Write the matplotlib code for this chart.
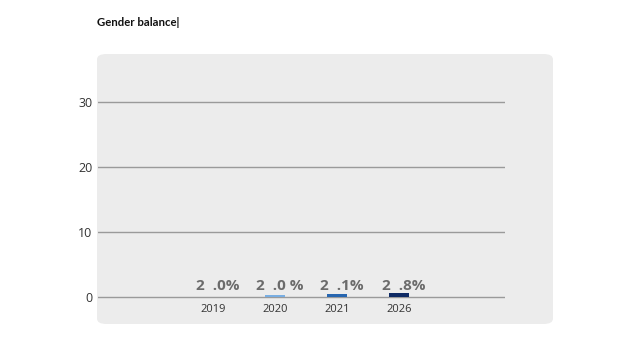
import matplotlib
matplotlib.use("Agg")
import matplotlib.pyplot as plt
from matplotlib.patches import FancyBboxPatch

plt.rcParams['font.family'] = ['Open Sans', 'DejaVu Sans']

years = ["2019", "2020", "2021", "2026"]
values = [0.0, 0.3, 0.45, 0.6]
labels = ["2  .0%", "2  .0 %", "2  .1%", "2  .8%"]
colors = ["#cfe0f3", "#79aee2", "#2766b0", "#0e2a64"]
yticks = [0, 10, 20, 30]

W, H = 640, 360
fig = plt.figure(figsize=(6.4, 3.6), dpi=100)
fig.patch.set_facecolor("white")

# rounded background panel
px0, py0, px1, py1 = 97, 54, 553, 324
panel = FancyBboxPatch((px0 / W, 1 - py1 / H), (px1 - px0) / W, (py1 - py0) / H,
                       boxstyle="round,pad=0,rounding_size=0.015",
                       transform=fig.transFigure, facecolor="#ececec",
                       edgecolor="none", zorder=0)
fig.patches.append(panel)

ax0, ax1 = 98, 505
ax = fig.add_axes([ax0 / W, 1 - py1 / H, (ax1 - ax0) / W, (py1 - py0) / H])
ax.set_zorder(5)
ax.set_facecolor("none")
ppu = 195 / 30.0
ax.set_ylim(-(324 - 297) / ppu, 30 + (102 - 54) / ppu)
xppu = 62.0
ax.set_xlim(-(213 - ax0) / xppu, (ax1 - 213) / xppu)

for s in ax.spines.values():
    s.set_visible(False)

ax.set_yticks(yticks)
ax.set_yticklabels([str(t) for t in yticks], fontsize=9, color="#333333")
ax.tick_params(axis="y", length=0, pad=4)
ax.set_xticks([])
for t in yticks:
    ax.axhline(t, color="#9a9a9a", lw=1.0, zorder=1)

xs = list(range(len(years)))
ax.bar(xs, values, width=0.32, color=colors, zorder=2)
for x, yr, lab in zip(xs, years, labels):
    ax.text(x, -1.85, yr, ha="center", va="center", fontsize=8, color="#333333")
    ax.text(x + 0.08, 1.65, lab, ha="center", va="center", fontsize=11,
            fontweight="bold", color="#6b6b6b")

fig.text(97 / W, 1 - 23 / H, "Gender balance|", ha="left", va="center",
         fontsize=8.2, fontweight="bold", color="#111111",
         family=["Lato", "DejaVu Sans"])

fig.savefig("out.png", dpi=100, facecolor="white")
